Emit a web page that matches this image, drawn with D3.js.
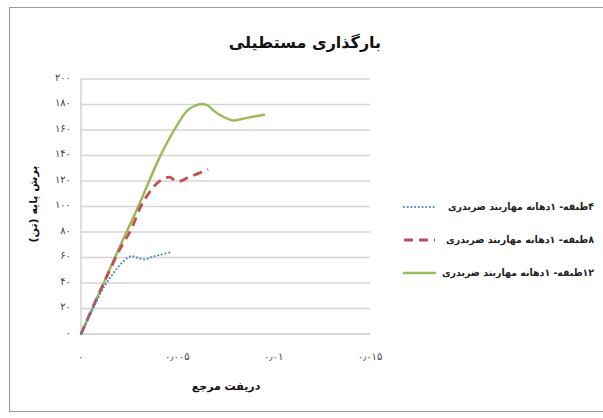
<!DOCTYPE html>
<html lang="fa">
<head>
<meta charset="utf-8">
<title>بارگذاری مستطیلی</title>
<script src="https://d3js.org/d3.v7.min.js"></script>
<style>
  body { margin: 0; background: #fff; }
  text { font-family: "DejaVu Sans", sans-serif; }
</style>
</head>
<body>
<script>
// data: [drift, base shear]
var story4 = [[0,0],[0.0006,19],[0.0012,37],[0.0017,48],[0.0022,57],[0.0026,61],[0.0029,60],
  [0.0033,58.5],[0.0037,60.5],[0.0041,62],[0.0046,64]];
var story8 = [[0,0],[0.001,34],[0.002,66],[0.0026,82],[0.0031,100],[0.0035,110],[0.0038,116],
  [0.0042,121],[0.0046,123],[0.0050,119.5],[0.0056,123],[0.0066,129]];
var story12 = [[0,0],[0.001,34],[0.002,68],[0.003,101],[0.004,136],[0.0045,151],[0.005,164],
  [0.0055,175],[0.006,179.5],[0.0063,180.4],[0.0066,179],[0.0069,175],[0.0073,171],
  [0.0079,167.5],[0.0086,169.5],[0.0095,172]];
var seriesNames = ["۴طبقه- ۱دهانه مهاربند ضربدری", "۸طبقه- ۱دهانه مهاربند ضربدری", "۱۲طبقه- ۱دهانه مهاربند ضربدری"];
var xTicks = [0, 0.005, 0.01, 0.015];
var xTickLabels = ["۰", "۰٫۰۰۵", "۰٫۰۱", "۰٫۰۱۵"];
var yTicks = [0, 20, 40, 60, 80, 100, 120, 140, 160, 180, 200];
var yTickLabels = ["۰", "۲۰", "۴۰", "۶۰", "۸۰", "۱۰۰", "۱۲۰", "۱۴۰", "۱۶۰", "۱۸۰", "۲۰۰"];

var width = 603, height = 418;
var svg = d3.select("body").append("svg")
    .attr("width", width)
    .attr("height", height);

svg.append("rect")
    .attr("x", 9.5).attr("y", 7.5)
    .attr("width", 600).attr("height", 404)
    .attr("fill", "#fff")
    .attr("stroke", "#999");

var x = d3.scaleLinear().domain([0, 0.015]).range([81, 370]);
var y = d3.scaleLinear().domain([0, 200]).range([334, 79]);

// gridlines
svg.selectAll(".grid")
    .data(yTicks.slice(1))
    .enter().append("line")
    .attr("x1", x(0)).attr("x2", x(0.015))
    .attr("y1", function(d) { return y(d); })
    .attr("y2", function(d) { return y(d); })
    .attr("stroke", "#d4d4d4")
    .attr("stroke-width", 1.5);

// axes lines
svg.append("line")
    .attr("x1", x(0)).attr("x2", x(0))
    .attr("y1", y(0)).attr("y2", y(200))
    .attr("stroke", "#c8c8c8").attr("stroke-width", 1.2);
svg.append("line")
    .attr("x1", x(0)).attr("x2", x(0.015))
    .attr("y1", y(0)).attr("y2", y(0))
    .attr("stroke", "#c8c8c8").attr("stroke-width", 1.5);

// tick labels
svg.selectAll(".ylab")
    .data(yTicks)
    .enter().append("text")
    .attr("x", 71)
    .attr("y", function(d) { return y(d); })
    .attr("dy", "0.15em")
    .attr("text-anchor", "end")
    .attr("font-size", 10)
    .attr("fill", "#444")
    .text(function(d, i) { return yTickLabels[i]; });

svg.selectAll(".xlab")
    .data(xTicks)
    .enter().append("text")
    .attr("x", function(d) { return x(d); })
    .attr("y", 360)
    .attr("text-anchor", "middle")
    .attr("font-size", 10)
    .attr("fill", "#444")
    .text(function(d, i) { return xTickLabels[i]; });

// titles
svg.append("text")
    .attr("x", 305).attr("y", 48)
    .attr("text-anchor", "middle")
    .attr("font-size", 16)
    .attr("font-weight", "bold")
    .attr("fill", "#111")
    .text("بارگذاری مستطیلی");

svg.append("text")
    .attr("x", 226).attr("y", 390)
    .attr("text-anchor", "middle")
    .attr("font-size", 11)
    .attr("font-weight", "bold")
    .attr("fill", "#111")
    .text("دریفت مرجع");

svg.append("text")
    .attr("transform", "translate(37,204) rotate(-90)")
    .attr("text-anchor", "middle")
    .attr("font-size", 11)
    .attr("font-weight", "bold")
    .attr("fill", "#111")
    .text("برش پایه (تن)");

// series
var line = d3.line()
    .x(function(d) { return x(d[0]); })
    .y(function(d) { return y(d[1]); })
    .curve(d3.curveCatmullRom.alpha(0.5));

var styles = [
  { color: "#4f81bd", width: 2, dash: "0.1,3.6", cap: "round" },
  { color: "#c0504d", width: 2.8, dash: "9,6", cap: "butt" },
  { color: "#9bbb59", width: 2.5, dash: null, cap: "round" }
];
var allSeries = [story4, story8, story12];

// draw 12-story first so the others sit on top, as in the original
[2, 1, 0].forEach(function(i) {
  svg.append("path")
      .datum(allSeries[i])
      .attr("d", line)
      .attr("fill", "none")
      .attr("stroke", styles[i].color)
      .attr("stroke-width", styles[i].width)
      .attr("stroke-dasharray", styles[i].dash)
      .attr("stroke-linecap", styles[i].cap);
});

// legend
var legendY = [207, 240, 273];
var legendTextW = [146, 148, 152];
var legend = svg.selectAll(".legend")
    .data(seriesNames)
    .enter().append("g")
    .attr("transform", function(d, i) { return "translate(0," + legendY[i] + ")"; });

legend.append("line")
    .attr("x1", 404).attr("x2", 435)
    .attr("y1", 0).attr("y2", 0)
    .attr("stroke", function(d, i) { return styles[i].color; })
    .attr("stroke-width", function(d, i) { return styles[i].width; })
    .attr("stroke-dasharray", function(d, i) { return styles[i].dash; })
    .attr("stroke-linecap", function(d, i) { return styles[i].cap; });

legend.append("text")
    .attr("x", 594)
    .attr("y", 0)
    .attr("dy", "0.3em")
    .attr("direction", "rtl")
    .attr("text-anchor", "start")
    .attr("font-size", 10)
    .attr("font-weight", "bold")
    .attr("fill", "#222")
    .attr("textLength", function(d, i) { return legendTextW[i]; })
    .attr("lengthAdjust", "spacingAndGlyphs")
    .text(function(d) { return d; });
</script>
</body>
</html>
